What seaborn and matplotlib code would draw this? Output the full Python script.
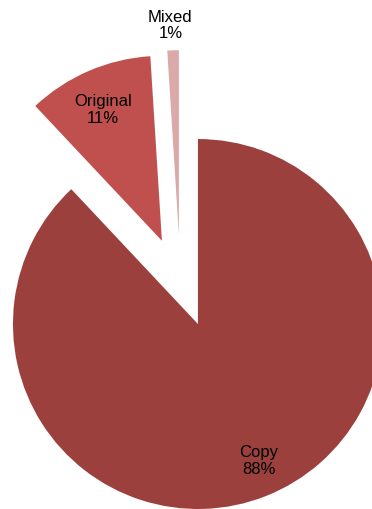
import matplotlib
matplotlib.use("Agg")
import matplotlib.pyplot as plt
import seaborn as sns

# data
categories = ["Copy", "Original", "Mixed"]
shares = [88, 11, 1]
colors = ["#9B403D", "#C0504D", "#DAA9A8"]

sns.set_theme(style="white")
plt.rcParams["font.family"] = ["Liberation Sans", "DejaVu Sans"]

fig = plt.figure(figsize=(3.72, 5.10), dpi=100)
ax = fig.add_axes([0, 0, 1, 1])

wedges, _ = ax.pie(
    shares,
    colors=colors,
    startangle=90,
    counterclock=False,
    explode=[0, 0.49, 0.48],
    radius=1.0,
    wedgeprops=dict(linewidth=0),
)
# Mixed slice is pulled out a bit more to the left in the original
wedges[2].set_center((-0.103, 0.48))

label_pos = [(0.33, -0.735), (-0.514, 1.162), (-0.149, 1.62)]
for name, val, (x, y) in zip(categories, shares, label_pos):
    ax.text(x, y, f"{name}\n{val}%", ha="center", va="center",
            fontsize=12, color="black", linespacing=1.1)

ax.set_xlim(-1.070, 0.941)
ax.set_ylim(-1.0, 1.757)
ax.set_aspect("equal")
ax.axis("off")

fig.savefig("out.png", dpi=100, facecolor="white")
